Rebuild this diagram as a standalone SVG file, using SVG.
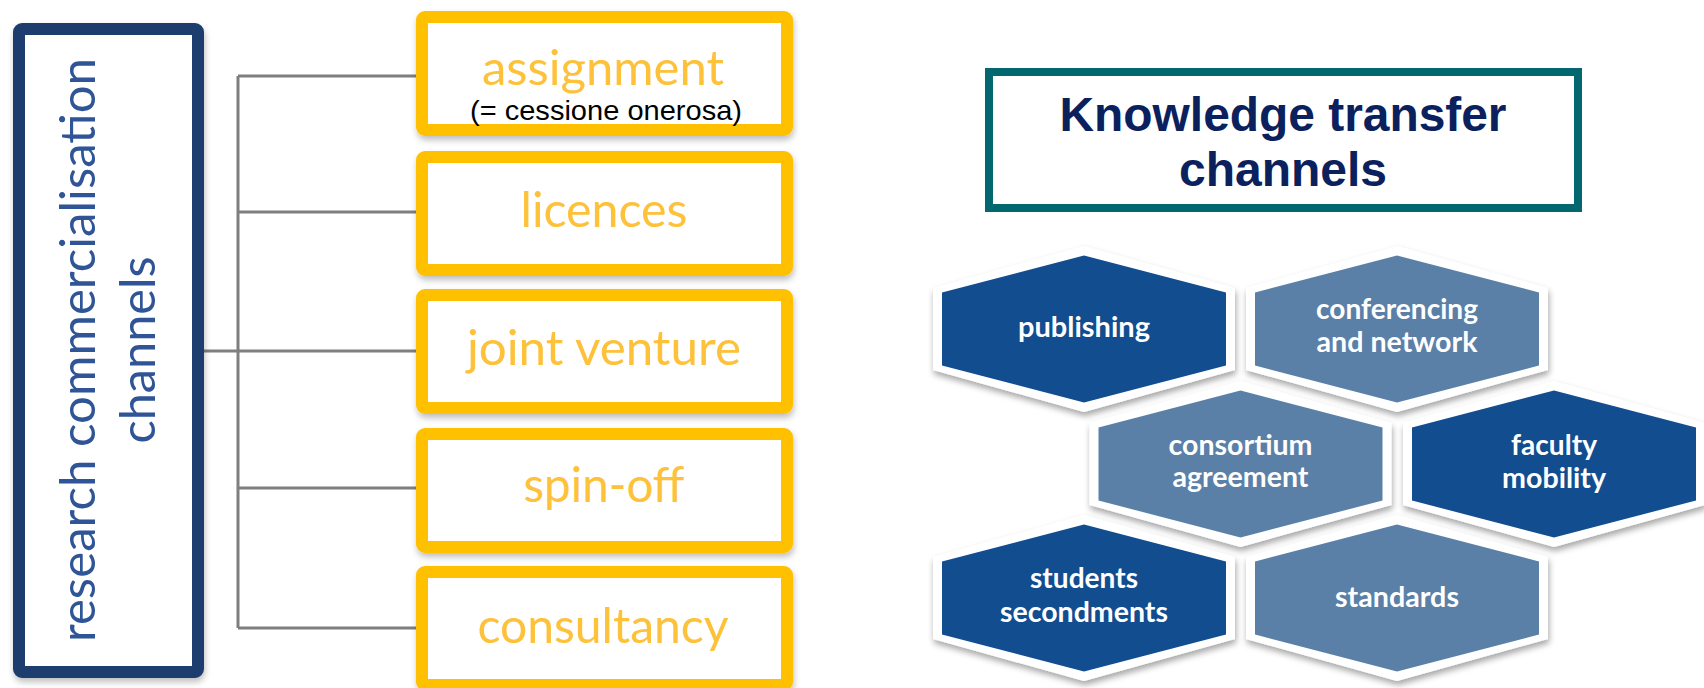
<svg xmlns="http://www.w3.org/2000/svg" xmlns:xlink="http://www.w3.org/1999/xlink" width="1704" height="688" viewBox="0 0 1704 688">
<style>
.bg{fill:#ffffff}
.navy{fill:#ffffff;stroke:#1E3D6E;stroke-width:12}
.ybox{fill:#ffffff;stroke:#FFC000;stroke-width:12}
.ytxt{font-family:Lato,"Open Sans",sans-serif;font-size:48px;fill:#FDC13A;text-anchor:middle}
.vtxt{font-family:Lato,"Open Sans",sans-serif;font-size:48px;fill:#2F5597;text-anchor:middle}
.note{font-family:"Liberation Sans",Arial,sans-serif;font-size:28px;fill:#000000;text-anchor:middle}
.conn{fill:none;stroke:#7F7F7F;stroke-width:3}
.title{fill:#ffffff;stroke:#03676F;stroke-width:8}
.ttxt{font-family:"Liberation Sans",Arial,sans-serif;font-weight:bold;font-size:48px;fill:#0B215E;text-anchor:middle}
.hout{fill:#ffffff}
.dark{fill:#114D8F}
.light{fill:#5B80A7}
.htxt{font-family:Lato,"Open Sans",sans-serif;font-weight:bold;font-size:28px;fill:#ffffff;text-anchor:middle}
</style>
<defs>
<filter id="sh" x="-10%" y="-10%" width="120%" height="130%">
<feDropShadow dx="1" dy="4" stdDeviation="3" flood-color="#000000" flood-opacity="0.25"/>
</filter>
<filter id="hsh" x="-10%" y="-15%" width="120%" height="135%">
<feDropShadow dx="1" dy="4" stdDeviation="3" flood-color="#000000" flood-opacity="0.35"/>
</filter>
<polygon id="hexO" points="0,-83 151,-41 151,41 0,83 -151,41 -151,-41"/>
<polygon id="hexI" points="0,-73.5 142,-36.5 142,36.5 0,73.5 -142,36.5 -142,-36.5"/>
</defs>
<rect class="bg" x="0" y="0" width="1704" height="688"/>

<g id="connectors">
<line class="conn" x1="238" y1="76" x2="238" y2="628"/>
<line class="conn" x1="204" y1="351" x2="238" y2="351"/>
<line class="conn" x1="238" y1="76" x2="416" y2="76"/>
<line class="conn" x1="238" y1="212" x2="416" y2="212"/>
<line class="conn" x1="238" y1="351" x2="416" y2="351"/>
<line class="conn" x1="238" y1="488" x2="416" y2="488"/>
<line class="conn" x1="238" y1="628" x2="416" y2="628"/>
</g>

<g id="node-research">
<rect class="navy" x="19" y="29" width="179" height="643" rx="3" filter="url(#sh)"/>
<text class="vtxt" transform="translate(95,350) rotate(-90)" textLength="584" lengthAdjust="spacingAndGlyphs">research commercialisation</text>
<text class="vtxt" transform="translate(155,350) rotate(-90)" textLength="187" lengthAdjust="spacingAndGlyphs">channels</text>
</g>

<g id="node-assignment">
<rect class="ybox" x="422" y="17" width="365" height="113" rx="3" filter="url(#sh)"/>
<text class="ytxt" x="603" y="85" textLength="242" lengthAdjust="spacingAndGlyphs">assignment</text>
<text class="note" x="606" y="120" textLength="272" lengthAdjust="spacingAndGlyphs">(= cessione onerosa)</text>
</g>
<g id="node-licences">
<rect class="ybox" x="422" y="157" width="365" height="113" rx="3" filter="url(#sh)"/>
<text class="ytxt" x="604" y="227" textLength="167" lengthAdjust="spacingAndGlyphs">licences</text>
</g>
<g id="node-joint-venture">
<rect class="ybox" x="422" y="295" width="365" height="113" rx="3" filter="url(#sh)"/>
<text class="ytxt" x="604" y="365" textLength="274" lengthAdjust="spacingAndGlyphs">joint venture</text>
</g>
<g id="node-spin-off">
<rect class="ybox" x="422" y="434" width="365" height="113" rx="3" filter="url(#sh)"/>
<text class="ytxt" x="604" y="502" textLength="161" lengthAdjust="spacingAndGlyphs">spin-off</text>
</g>
<g id="node-consultancy">
<rect class="ybox" x="422" y="572" width="365" height="113" rx="3" filter="url(#sh)"/>
<text class="ytxt" x="603" y="643" textLength="251" lengthAdjust="spacingAndGlyphs">consultancy</text>
</g>

<g id="node-title">
<rect class="title" x="989" y="72" width="589" height="136"/>
<text class="ttxt" x="1283" y="131" textLength="447" lengthAdjust="spacingAndGlyphs">Knowledge transfer</text>
<text class="ttxt" x="1283" y="186">channels</text>
</g>

<g id="node-publishing" transform="translate(1084,329)">
<use href="#hexO" class="hout" filter="url(#hsh)"/>
<use href="#hexI" class="dark"/>
<text class="htxt" x="0" y="8" textLength="132" lengthAdjust="spacingAndGlyphs">publishing</text>
</g>
<g id="node-conferencing" transform="translate(1397,329)">
<use href="#hexO" class="hout" filter="url(#hsh)"/>
<use href="#hexI" class="light"/>
<text class="htxt" x="0" y="-10" textLength="162" lengthAdjust="spacingAndGlyphs">conferencing</text>
<text class="htxt" x="0" y="23" textLength="161" lengthAdjust="spacingAndGlyphs">and network</text>
</g>
<g id="node-consortium" transform="translate(1240.5,464)">
<use href="#hexO" class="hout" filter="url(#hsh)"/>
<use href="#hexI" class="light"/>
<text class="htxt" x="0" y="-9" textLength="144" lengthAdjust="spacingAndGlyphs">consortium</text>
<text class="htxt" x="0" y="23" textLength="136" lengthAdjust="spacingAndGlyphs">agreement</text>
</g>
<g id="node-faculty" transform="translate(1554,464)">
<use href="#hexO" class="hout" filter="url(#hsh)"/>
<use href="#hexI" class="dark"/>
<text class="htxt" x="0" y="-9" textLength="86" lengthAdjust="spacingAndGlyphs">faculty</text>
<text class="htxt" x="0" y="24" textLength="104" lengthAdjust="spacingAndGlyphs">mobility</text>
</g>
<g id="node-students" transform="translate(1084,598)">
<use href="#hexO" class="hout" filter="url(#hsh)"/>
<use href="#hexI" class="dark"/>
<text class="htxt" x="0" y="-10" textLength="108" lengthAdjust="spacingAndGlyphs">students</text>
<text class="htxt" x="0" y="24" textLength="168" lengthAdjust="spacingAndGlyphs">secondments</text>
</g>
<g id="node-standards" transform="translate(1397,598)">
<use href="#hexO" class="hout" filter="url(#hsh)"/>
<use href="#hexI" class="light"/>
<text class="htxt" x="0" y="9" textLength="124" lengthAdjust="spacingAndGlyphs">standards</text>
</g>
</svg>
